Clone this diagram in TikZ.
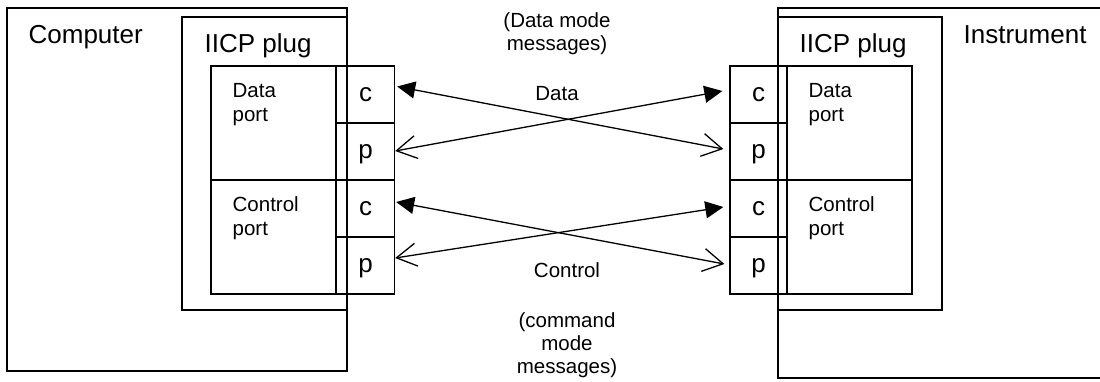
\documentclass[tikz,border=0pt]{standalone}
\usepackage{fontspec}
\setmainfont{Liberation Sans}
\usetikzlibrary{arrows.meta,calc}
\begin{document}
\begin{tikzpicture}[x=1pt,y=-1pt,line width=1.3pt,
  box/.style={draw,rectangle,inner sep=0pt},
  big/.style={font=\fontsize{26}{30}\selectfont,inner sep=0pt},
  small/.style={font=\fontsize{20.5}{23}\selectfont,inner sep=0pt},
  porttext/.style={font=\fontsize{20.5}{24}\selectfont,inner sep=0pt,anchor=base west,align=left},
  cell/.style={draw,rectangle,inner sep=0pt,minimum width=58pt,minimum height=57pt,
    font=\fontsize{26}{30}\selectfont,text height=13.5pt,text depth=0pt},
  cellr/.style={cell,minimum width=57pt},
  fullhead/.tip={Triangle[length=18pt,width=17pt]},
  openhead/.tip={Straight Barb[length=20pt,width=23pt]},
  link/.style={line width=1.3pt}]
\useasboundingbox (0,0) rectangle (1100,381);
\clip (0,0) rectangle (1100,381);
% left side
\node[box,minimum width=340pt,minimum height=363pt] (computer) at (177,189.5) {};
\node[box,minimum width=165pt,minimum height=293pt] (lplug) at (264.5,163.5) {};
\node[box,minimum width=125pt,minimum height=114pt] (ldp) at (273.5,123) {};
\node[box,minimum width=125pt,minimum height=114pt] (lcp) at (273.5,237) {};
\node[cell] (lc1) at (365.5,94.5) {c};
\node[cell] (lp1) at (365.5,151.5) {p};
\node[cell] (lc2) at (365.5,208.5) {c};
\node[cell] (lp2) at (365.5,265.5) {p};
\node[big,anchor=base west] (tcomp) at (28,43.6) {Computer};
\node[big,anchor=base west] (tlplug) at (204,52) {IICP plug};
\node[porttext] (tldp) at (232,121) {Data\\port};
\node[porttext] (tlcp) at (232,235.5) {Control\\port};
% right side
\node[box,minimum width=332pt,minimum height=370pt] (instr) at (944,193) {};
\node[box,minimum width=164pt,minimum height=293pt] (rplug) at (860,163.5) {};
\node[box,minimum width=125pt,minimum height=114pt] (rdp) at (849.5,123) {};
\node[box,minimum width=125pt,minimum height=114pt] (rcp) at (849.5,237) {};
\node[cellr] (rc1) at (758.5,94.5) {c};
\node[cellr] (rp1) at (758.5,151.5) {p};
\node[cellr] (rc2) at (758.5,208.5) {c};
\node[cellr] (rp2) at (758.5,265.5) {p};
\node[big,anchor=base west] (tinstr) at (963,43.6) {Instrument};
\node[big,anchor=base west] (trplug) at (799,52) {IICP plug};
\node[porttext] (trdp) at (808,121) {Data\\port};
\node[porttext] (trcp) at (808,235.5) {Control\\port};
% middle labels
\node[small,anchor=base,align=center] (tdmode) at (557,50) {(Data mode\\messages)};
\node[small,anchor=base] (tdata) at (557,100) {Data};
\node[small,anchor=base] (tctrl) at (567,277) {Control};
\node[small,anchor=base,align=center] (tcmode) at (567,373) {(command\\mode\\messages)};
% connectors
\draw[link,fullhead-openhead] ($(lc1.east)+(2,-8)$) -- ($(rp1.west)+(-6,-2.5)$);
\draw[link,openhead-fullhead] ($(lp1.east)+(0,-0.5)$) -- ($(rc1.west)+(-7,-3.5)$);
\draw[link,fullhead-openhead] ($(lc2.east)+(1,-6.5)$) -- ($(rp2.west)+(-5,-1.5)$);
\draw[link,openhead-fullhead] ($(lp2.east)+(0,-7.5)$) -- ($(rc2.west)+(-6,-1.5)$);
\end{tikzpicture}
\end{document}
